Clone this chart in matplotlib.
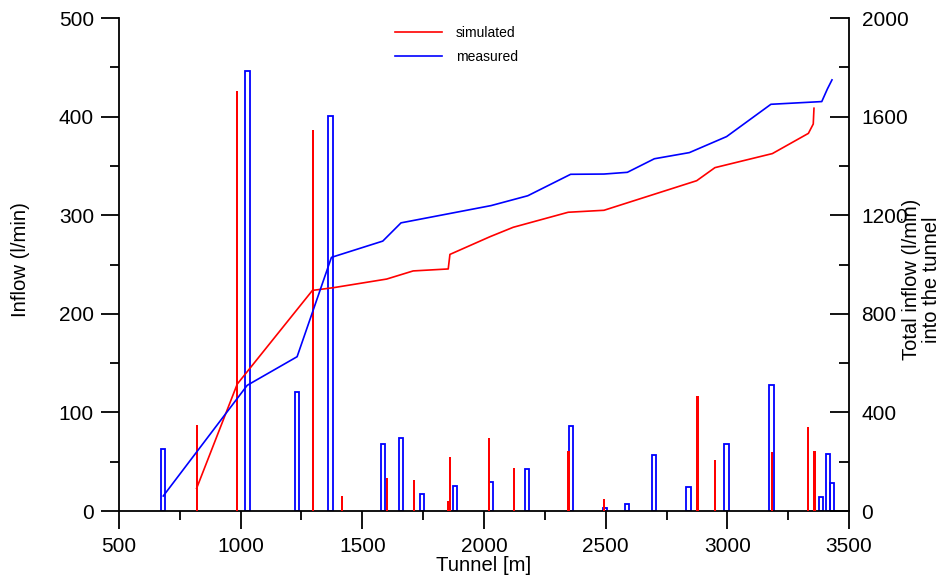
import matplotlib.pyplot as plt
from matplotlib.ticker import MultipleLocator

plt.rcParams['font.family'] = ['Liberation Sans', 'DejaVu Sans']

# single inflow points along the tunnel (l/min)
meas_x = [681, 1028, 1232, 1370, 1585, 1659, 1745, 1881, 2029, 2177,
          2358, 2497, 2588, 2699, 2841, 2996, 3182, 3385, 3414, 3430]
meas_q = [63, 446, 121, 401, 68, 74, 17, 25, 29, 43,
          86, 3.5, 7.5, 57, 24, 68, 128, 14.5, 58, 28]

sim_x = [819, 985, 1296, 1417, 1600, 1712, 1852, 1860, 2022, 2122,
         2347, 2493, 2877, 2950, 3184, 3332, 3358]
sim_q = [87, 426, 386, 15, 33, 31, 10, 55, 74, 44,
         61, 12, 117, 52, 60, 85, 61]

# total inflow into the tunnel (l/min), right axis
sim_tot_x = [819, 986, 1295, 1381, 1600, 1709, 1853, 1860, 2025, 2120,
             2346, 2493, 2874, 2949, 3185, 3333, 3353, 3356]
sim_tot = [92, 515, 895, 906, 941, 974, 982, 1041, 1113, 1151,
           1212, 1220, 1340, 1393, 1450, 1532, 1570, 1634]

meas_tot_x = [682, 1027, 1232, 1373, 1584, 1659, 2029, 2180, 2356, 2493,
              2589, 2700, 2844, 2997, 3179, 3388, 3411, 3430]
meas_tot = [61, 510, 626, 1029, 1095, 1169, 1239, 1279, 1366, 1367,
            1374, 1429, 1454, 1519, 1650, 1661, 1712, 1749]

fig = plt.figure(figsize=(9.42, 5.79), dpi=100)
ax = fig.add_axes([0.1263, 0.1174, 0.775, 0.8515])
ax2 = ax.twinx()

ax.bar(meas_x, meas_q, width=18, fill=False, edgecolor='blue', linewidth=1.3, zorder=2)
ax.bar(sim_x, sim_q, width=9, color='red', linewidth=0, zorder=3)

ax2.plot(sim_tot_x, sim_tot, color='red', linewidth=1.2, label='simulated')
ax2.plot(meas_tot_x, meas_tot, color='blue', linewidth=1.2, label='measured')

ax.set_xlim(500, 3500)
ax.set_ylim(0, 500)
ax2.set_ylim(0, 2000)

ax.xaxis.set_major_locator(MultipleLocator(500))
ax.xaxis.set_minor_locator(MultipleLocator(250))
ax.yaxis.set_major_locator(MultipleLocator(100))
ax.yaxis.set_minor_locator(MultipleLocator(50))
ax2.yaxis.set_major_locator(MultipleLocator(400))
ax2.yaxis.set_minor_locator(MultipleLocator(200))

for a in (ax, ax2):
    a.spines['top'].set_visible(False)
    for s in a.spines.values():
        s.set_linewidth(1.3)
ax.spines['right'].set_visible(False)
ax2.spines['left'].set_visible(False)
ax2.spines['bottom'].set_visible(False)

ax.tick_params(axis='x', which='major', direction='out', length=13, width=1.3,
               labelsize=15, pad=6)
ax.tick_params(axis='x', which='minor', direction='out', length=6.5, width=1.3)
ax.tick_params(axis='y', which='major', direction='out', length=13, width=1.3,
               labelsize=15, pad=5)
ax.tick_params(axis='y', which='minor', direction='out', length=6.5, width=1.3)
ax2.tick_params(axis='y', which='major', direction='in', length=13.5, width=1.3,
                labelsize=15, pad=9)
ax2.tick_params(axis='y', which='minor', direction='in', length=7, width=1.3)

ax.set_xlabel('Tunnel [m]', fontsize=14.6, labelpad=0)
ax.set_ylabel('Inflow (l/min)', fontsize=14.6)
ax.yaxis.set_label_coords(-0.122, 0.51)
ax2.set_ylabel('Total inflow (l/min)\ninto the tunnel', fontsize=14.5, linespacing=1.1)
ax2.yaxis.set_label_coords(1.072, 0.47)

ax2.legend(loc='upper left', bbox_to_anchor=(0.4193, 0.955), bbox_transform=fig.transFigure,
           frameon=False, fontsize=10, handlelength=3.4, handletextpad=1.0,
           labelspacing=0.7, borderpad=0, borderaxespad=0)

fig.savefig('out.png', dpi=100)
